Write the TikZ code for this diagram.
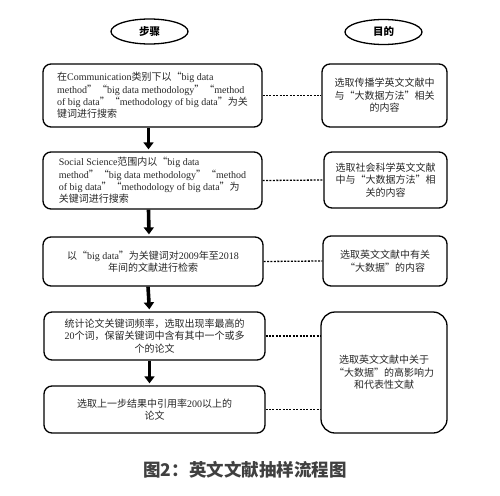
\documentclass[tikz,border=0pt]{standalone}
\usepackage{fontspec}
\setmainfont{Liberation Serif}
\newfontfamily\cjk{Noto Sans CJK SC}
\newcommand{\zh}[1]{{\cjk #1}}
\usetikzlibrary{arrows.meta, shapes.geometric}

\begin{document}
\begin{tikzpicture}[x=1pt, y=-1pt,
    heading/.style={draw, ellipse, line width=1.3pt, minimum width=77pt, minimum height=25pt, inner sep=0pt, font=\cjk\bfseries\fontsize{10.5}{12}\selectfont},
    stepbox/.style={draw, rounded corners=8pt, line width=1.3pt, inner sep=0pt, text=black!85, font=\fontsize{10}{12.4}\selectfont},
    aimbox/.style={stepbox, align=center, font=\cjk\fontsize{10}{12.4}\selectfont},
    flow/.style={line width=3.6pt, -{Triangle[width=10pt,length=7pt]}, shorten >=2pt},
    link/.style={line width=1.3pt, dash pattern=on 2pt off 1.4pt}]
    \useasboundingbox (0,0) rectangle (500,495);

    % headings
    \node[heading] (steps) at (149.5,31.5) {步骤};
    \node[heading] (aims) at (383.5,32) {目的};

    % steps
    \node[stepbox, minimum width=219pt, minimum height=63pt, align=left] (s1) at (152.5,95.5)
        {\zh{在}Communication\zh{类别下以“}big data\\
         method\zh{”“}big data methodology\zh{”“}method\\
         of big data\zh{”“}methodology of big data\zh{”为关}\\
         \zh{键词进行搜索}};
    \node[stepbox, minimum width=219pt, minimum height=57pt, align=left] (s2) at (152.5,180.5)
        {Social Science\zh{范围内以“}big data\\
         method\zh{”“}big data methodology\zh{”“}method\\
         of big data\zh{”“}methodology of big data\zh{”为}\\
         \zh{关键词进行搜索}};
    \node[stepbox, minimum width=220pt, minimum height=49pt, align=center] (s3) at (153,261.5)
        {\zh{以“}big data\zh{”为关键词对}2009\zh{年至}2018\\
         \zh{年间的文献进行检索}};
    \node[stepbox, minimum width=221pt, minimum height=48pt, align=center] (s4) at (154.5,336)
        {\zh{统计论文关键词频率，选取出现率最高的}\\
         20\zh{个词，保留关键词中含有其中一个或多}\\
         \zh{个的论文}};
    \node[stepbox, minimum width=221pt, minimum height=47pt, align=center] (s5) at (154.5,409.5)
        {\zh{选取上一步结果中引用率}200\zh{以上的}\\
         \zh{论文}};

    % aims
    \node[aimbox, minimum width=125pt, minimum height=63pt] (p1) at (384.5,95.5)
        {选取传播学英文文献中\\与“大数据方法”相关\\的内容};
    \node[aimbox, minimum width=123pt, minimum height=56pt] (p2) at (385.5,180)
        {选取社会科学英文文献\\中与“大数据方法”相\\关的内容};
    \node[aimbox, minimum width=124pt, minimum height=50pt] (p3) at (385,261)
        {选取英文文献中有关\\“大数据”的内容};
    \node[aimbox, minimum width=126pt, minimum height=121pt, rounded corners=14pt] (p4) at (384,372.5)
        {选取英文文献中关于\\“大数据”的高影响力\\和代表性文献};

    % flow arrows
    \draw[flow] ([xshift=-4pt]s1.south) -- ([xshift=-4pt]s2.north);
    \draw[flow] ([xshift=-4pt]s2.south) -- ([xshift=-4pt]s3.north);
    \draw[flow] ([xshift=-5pt]s3.south) -- ([xshift=-5pt]s4.north);
    \draw[flow] ([xshift=-5pt]s4.south) -- ([xshift=-5pt]s5.north);

    % dotted links
    \draw[link] (s1.east) -- (p1.west);
    \draw[link] (s2.east) -- (p2.west);
    \draw[link] (s3.east) -- (p3.west);
    \draw[link] (s4.east) -- (s4.east -| p4.west);
    \draw[link] (s5.east) -- (s5.east -| p4.west);

    \node[text=black!75, font=\cjk\bfseries\fontsize{17.5}{20}\selectfont] (caption) at (245,470) {图2：英文文献抽样流程图};
\end{tikzpicture}
\end{document}
